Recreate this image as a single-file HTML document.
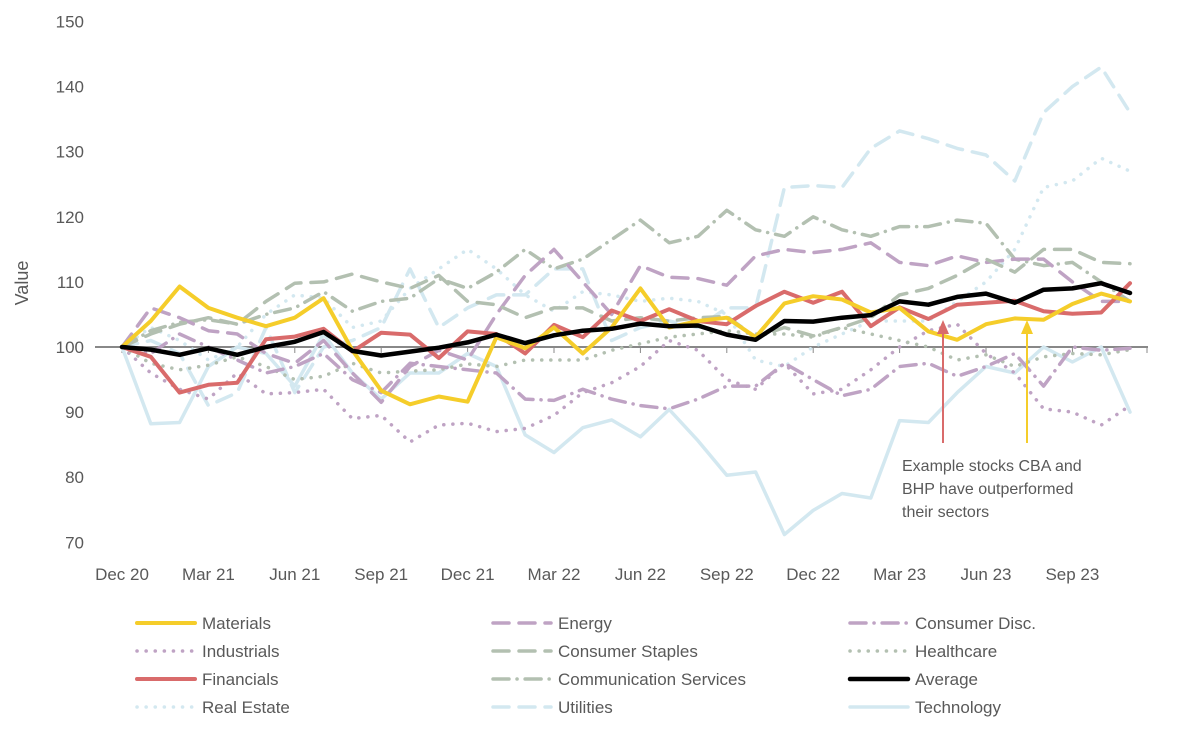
<!DOCTYPE html>
<html><head><meta charset="utf-8"><style>
body{margin:0;background:#fff;font-family:"Liberation Sans",sans-serif}
svg text{font-family:"Liberation Sans",sans-serif;fill:#595959}
</style></head><body>
<svg id="chart" width="1177" height="735" xmlns="http://www.w3.org/2000/svg"></svg>
<script>
const months = ["Dec 20","Mar 21","Jun 21","Sep 21","Dec 21","Mar 22","Jun 22","Sep 22","Dec 22","Mar 23","Jun 23","Sep 23"];
const yTicks = [70,80,90,100,110,120,130,140,150];
const materials = [100,104,109.3,106,104.5,103.2,104.5,107.5,99.5,93.3,91.2,92.4,91.6,101.5,99.8,103,99,103,109,103,104,104.5,101.5,106.7,107.8,107.3,105.3,106,102.4,101.1,103.5,104.4,104.2,106.6,108.2,107];
const energy = [100,106,104.5,102.5,102,99,97.5,101,96,91.5,97,99.5,98,105,111,115,110,105,112.5,110.7,110.5,109.5,114,115,114.5,115,116,113,112.5,114,113,113.5,113.5,110,107,107];
const consDisc = [100,99,102,100,98,96,97,99,95,93,97.5,97,96.5,96,92,91.8,93.5,92,91,90.5,92,94,94,97.5,95,92.5,93.5,97,97.5,95.5,97,99,94,100,99.5,99.8];
const industrials = [100,96,93.5,92,96,92.8,93,93.5,89,89.5,85.4,88,88.3,87,87.5,89.5,93,94.5,97,101,99.5,95,93.5,97.5,92.8,93.5,96.5,100,102.5,103.5,99,96,90.5,90,88,91];
const consStaples = [100,102,103.5,104.5,103.5,107,109.8,110,111.2,110,109,111,107,106.5,104.5,106,106,104,104.5,104,104.5,104.7,101.5,103,101.7,103,104.5,108,109,111,113.5,111.5,115,115,113,112.8];
const healthcare = [100,97.5,96.5,97.2,98.5,97,95,95.5,97.5,96,96.3,96.5,97.4,97,98,98,98,99.5,100.5,101.5,102,102.5,102,102,101.5,103,102,101,100,98,98.8,97,98.5,99,98.8,99.6];
const financials = [100,98.5,93,94.2,94.5,101.2,101.6,102.8,99.3,102.2,101.9,98.3,102.4,102,99,103.4,101.5,105.6,104,105.8,104,103.5,106.3,108.5,106.8,108.5,103.2,106.1,104.3,106.5,106.8,107.1,105.5,105.1,105.3,109.8];
const commServices = [100,102.5,103.8,104.2,103.5,105,106,108.5,105.5,107,107.5,110.5,109,111.5,115,112,113.5,116.5,119.5,116,117,121,118,117,120,118,117,118.5,118.5,119.5,119,113.5,112.5,113,110,107];
const average = [100,99.6,98.8,99.8,98.8,100,100.8,102.3,99.4,98.7,99.3,99.9,100.7,101.9,100.6,101.8,102.5,102.8,103.6,103.2,103.3,101.9,101.1,104,103.9,104.5,104.9,107,106.5,107.7,108.2,106.8,108.8,109,109.8,108.3];
const realEstate = [100,103,101,98,100,105,108,107.5,103,104,109,112,115,112,108,105.5,108.5,108,107,107.5,107,105,98,97,100,102,104,104,104,107,110,115,124.5,125.5,129,127];
const utilities = [100,101,99,91,93,103,93,100,101,103,112,103,106,108,108,112,112,101,103,104,103,106,106,124.5,124.8,124.5,130.5,133.2,132,130.5,129.5,125.5,136,140,143,136];
const technology = [100,88.2,88.4,97,100,99,94,102,96,92,96,96,99,97,86.5,83.8,87.6,88.8,86.2,90.4,85.6,80.3,80.8,71.2,74.9,77.5,76.8,88.7,88.4,93,97,96,100,97.7,100,90];

const NS="http://www.w3.org/2000/svg";
const svg=document.getElementById('chart');
const x0=122, dx=28.8;
const xs=i=>x0+i*dx;
const ys=v=>347-(v-100)*6.51;
function mk(t,a,p){const e=document.createElementNS(NS,t);for(const k in a)e.setAttribute(k,a[k]);(p||svg).appendChild(e);return e;}

yTicks.forEach(v=>{const t=mk('text',{x:84,y:ys(v)+6,'text-anchor':'end','font-size':17});t.textContent=v;

});
const yt=mk('text',{x:28,y:283,'text-anchor':'middle','font-size':18,transform:'rotate(-90 28 283)'});yt.textContent='Value';


months.forEach((m,i)=>{const t=mk('text',{x:xs(i*3),y:580,'text-anchor':'middle','font-size':17});t.textContent=m;


mk('line',{x1:xs(i*3),x2:xs(i*3),y1:347,y2:353,stroke:'#888','stroke-width':1});});
mk('line',{x1:95,x2:1148,y1:347,y2:347,stroke:'#888','stroke-width':2});
mk('line',{x1:1147,x2:1147,y1:347,y2:353,stroke:'#888','stroke-width':1});

const Y='#F5CD2A',R='#D96B6B',P='#BFA3C4',G='#B3C0B1',B='#D3E8F0';
const series=[
 ['Technology',technology,B,3.5,''],
 ['Utilities',utilities,B,3.5,'16 10'],
 ['Real Estate',realEstate,B,3.5,'0.1 9'],
 ['Industrials',industrials,P,3.5,'0.1 9'],
 ['Healthcare',healthcare,G,3.5,'0.1 9'],
 ['Consumer Disc.',consDisc,P,3.5,'16 8 0.1 8'],
 ['Communication Services',commServices,G,3.5,'16 8 0.1 8'],
 ['Energy',energy,P,3.5,'16 10'],
 ['Consumer Staples',consStaples,G,3.5,'16 10'],
 ['Financials',financials,R,4,''],
 ['Materials',materials,Y,4,''],
 ['Average',average,'#000',4.5,'']
];
series.forEach(s=>{const d=s[1].map((v,i)=>(i?'L':'M')+xs(i).toFixed(1)+' '+ys(v).toFixed(1)).join('');
const p=mk('path',{d:d,fill:'none',stroke:s[2],'stroke-width':s[3],'stroke-dasharray':s[4],'stroke-linecap':'round','stroke-linejoin':'round'});

});

// annotation arrows
[[943,R],[1027,Y]].forEach(a=>{mk('line',{x1:a[0],x2:a[0],y1:443,y2:332,stroke:a[1],'stroke-width':2});
mk('polygon',{points:`${a[0]-6},334 ${a[0]+6},334 ${a[0]},320`,fill:a[1]});});
['Example stocks CBA and','BHP have outperformed','their sectors'].forEach((l,i)=>{const t=mk('text',{x:902,y:471+i*23,'font-size':16});t.textContent=l;

});

const legend=[['Materials',Y,'',4],['Energy',P,'16 10',3.5],['Consumer Disc.',P,'16 8 0.1 8',3.5],
['Industrials',P,'0.1 9',3.5],['Consumer Staples',G,'16 10',3.5],['Healthcare',G,'0.1 9',3.5],
['Financials',R,'',4],['Communication Services',G,'16 8 0.1 8',3.5],['Average','#000','',4.5],
['Real Estate',B,'0.1 9',3.5],['Utilities',B,'16 10',3.5],['Technology',B,'',3.5]];
const cols=[137,493,850];
legend.forEach((l,i)=>{const cx=cols[i%3],cy=623+Math.floor(i/3)*28;
const g=mk('g',{});


mk('line',{x1:cx,x2:cx+58,y1:cy,y2:cy,stroke:l[1],'stroke-width':l[3],'stroke-dasharray':l[2],'stroke-linecap':'round'},g);
const t=mk('text',{x:cx+65,y:cy+6,'font-size':17},g);t.textContent=l[0];});
</script>
</body></html>
